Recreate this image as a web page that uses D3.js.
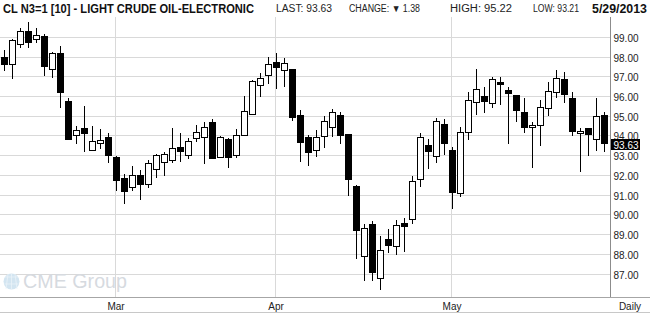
<!DOCTYPE html>
<html><head><meta charset="utf-8">
<script src="https://cdn.jsdelivr.net/npm/d3@7"></script>
<style>html,body{margin:0;padding:0;background:#fff;}svg{display:block;}</style>
</head><body>
<svg id="c" width="650" height="314"></svg>
<script>
const dates = ["2013-02-08","2013-02-11","2013-02-12","2013-02-13","2013-02-14","2013-02-15","2013-02-19","2013-02-20","2013-02-21","2013-02-22","2013-02-25","2013-02-26","2013-02-27","2013-02-28",
"2013-03-01","2013-03-04","2013-03-05","2013-03-06","2013-03-07","2013-03-08","2013-03-11","2013-03-12","2013-03-13","2013-03-14","2013-03-15","2013-03-18","2013-03-19","2013-03-20","2013-03-21","2013-03-22","2013-03-25","2013-03-26","2013-03-27","2013-03-28",
"2013-04-01","2013-04-02","2013-04-03","2013-04-04","2013-04-05","2013-04-08","2013-04-09","2013-04-10","2013-04-11","2013-04-12","2013-04-15","2013-04-16","2013-04-17","2013-04-18","2013-04-19","2013-04-22","2013-04-23","2013-04-24","2013-04-25","2013-04-26","2013-04-29","2013-04-30",
"2013-05-01","2013-05-02","2013-05-03","2013-05-06","2013-05-07","2013-05-08","2013-05-09","2013-05-10","2013-05-13","2013-05-14","2013-05-15","2013-05-16","2013-05-17","2013-05-20","2013-05-21","2013-05-22","2013-05-23","2013-05-24","2013-05-28","2013-05-29"];
const open  = [97.99,97.63,98.65,99.32,98.90,99.07,97.38,98.21,95.77,94.03,94.41,93.27,93.63,93.95,92.94,91.85,91.42,92.01,91.55,92.33,92.67,92.77,93.43,93.02,93.88,93.93,94.69,92.92,93.83,93.02,94.03,95.10,96.57,97.07,97.73,97.33,97.38,95.05,93.93,93.27,93.98,94.44,95.05,94.08,91.47,87.90,89.52,86.79,88.76,88.41,89.59,89.78,91.80,93.53,92.97,94.59,93.27,91.09,94.19,95.72,96.01,95.66,96.75,96.33,96.07,95.21,94.45,94.54,95.42,96.21,96.87,95.91,94.15,94.39,93.83,95.05];
const high  = [98.36,98.92,99.47,99.76,99.47,99.15,98.24,98.56,95.91,94.51,95.52,94.51,94.35,94.15,92.96,92.07,92.48,92.26,92.78,93.07,93.19,94.41,94.15,93.90,94.56,94.69,94.84,94.02,93.88,94.35,96.01,96.82,97.18,97.99,98.19,97.94,97.40,95.32,94.03,94.29,95.00,95.35,95.20,94.10,91.49,89.52,89.68,88.92,89.27,89.73,89.83,91.97,94.14,93.85,94.91,94.86,93.43,94.46,96.21,97.38,96.47,96.97,96.97,96.47,96.09,95.94,94.71,95.81,96.73,97.34,97.22,96.21,94.39,94.41,95.91,95.22];
const low   = [97.31,96.87,98.48,98.48,98.70,97.06,96.96,95.44,93.84,93.61,93.19,93.27,93.36,92.65,91.23,90.57,91.23,90.77,91.38,91.89,91.99,92.65,92.70,92.82,93.71,92.60,92.85,92.92,92.36,92.90,94.03,95.10,95.99,96.65,96.40,96.50,94.78,92.70,92.50,92.95,93.41,93.97,93.61,90.94,87.78,86.67,86.62,86.18,88.05,87.95,88.09,89.52,91.40,92.34,92.65,93.05,90.32,90.89,93.78,95.08,95.15,95.44,95.59,93.61,94.69,94.13,92.39,93.51,95.03,95.94,95.69,94.02,92.19,93.00,93.22,93.21];
const close = [97.63,98.86,99.32,98.78,99.10,97.56,98.21,96.25,93.86,94.30,94.17,93.73,93.80,93.05,91.79,91.23,92.01,91.55,92.61,93.04,93.07,93.37,93.22,93.73,94.22,94.47,92.90,93.93,92.92,94.07,95.25,96.77,96.96,97.63,97.51,97.68,94.95,93.71,93.17,93.93,94.74,95.20,94.07,91.84,89.25,89.32,87.12,88.21,88.46,89.47,89.42,91.70,93.93,93.22,94.74,93.63,91.18,94.19,95.81,96.36,95.79,96.87,96.62,96.20,95.33,94.43,94.54,95.45,96.28,96.92,96.11,94.24,94.25,94.08,95.01,93.63];
const yTicks = [87,88,89,90,91,92,93,94,95,96,97,98,99];
const monthTicks = ["2013-03-01","2013-04-01","2013-05-01"];
const monthLabels = ["Mar","Apr","May"];
const title = "CL N3=1 [10] - LIGHT CRUDE OIL-ELECTRONIC";
const headerItems = ["LAST: 93.63","CHANGE: \u25BC 1.38","HIGH: 95.22","LOW: 93.21"];
const headerDate = "5/29/2013";
const lastPrice = 93.63;

const svg = d3.select("#c");
const plotTop = 17, plotBottom = 297.5, axisX = 610.5;
const x = d3.scalePoint().domain(dates).range([4, 604]);
const y = d3.scaleLinear().domain([87, 99]).range([274, 37.3]);
const F = "'Liberation Sans', Arial, sans-serif";

// gridlines
svg.append("g").selectAll("line").data(yTicks).join("line")
  .attr("x1", 0).attr("x2", axisX)
  .attr("y1", d => Math.floor(y(d)) + 0.5).attr("y2", d => Math.floor(y(d)) + 0.5)
  .attr("stroke", "#d9d9d9").attr("stroke-width", 1);
svg.append("g").selectAll("line").data(monthTicks).join("line")
  .attr("x1", d => Math.round(x(d)) - 0.5).attr("x2", d => Math.round(x(d)) - 0.5)
  .attr("y1", plotTop).attr("y2", plotBottom)
  .attr("stroke", "#d9d9d9").attr("stroke-width", 1);

// watermark
const wm = svg.append("g");
wm.append("circle").attr("cx", 11.5).attr("cy", 281.5).attr("r", 8).attr("fill", "#d3e5f1");
[[5,277,18,277],[4.5,284,18.5,284],[8,274,6,289],[15,274,17,289],[11.5,273.5,11.5,289.5]].forEach(l=>{
  wm.append("line").attr("x1",l[0]).attr("y1",l[1]).attr("x2",l[2]).attr("y2",l[3]).attr("stroke","#eaf3f9").attr("stroke-width",0.8);
});
wm.append("text").attr("x", 23).attr("y", 288).attr("font-family", F).attr("font-size", 19.5)
  .attr("fill", "#d6dadf").attr("textLength", 104).attr("lengthAdjust", "spacingAndGlyphs").text("CME Group");

// axes lines
svg.append("line").attr("x1", axisX).attr("x2", axisX).attr("y1", plotTop).attr("y2", plotBottom).attr("stroke", "#8c8c8c");
svg.append("line").attr("x1", 0).attr("x2", 650).attr("y1", plotBottom).attr("y2", plotBottom).attr("stroke", "#a6a6a6");
svg.append("line").attr("x1", 0).attr("x2", 650).attr("y1", 312.5).attr("y2", 312.5).attr("stroke", "#c8c8c8");

// candles
const data = dates.map((d, i) => ({d, o: open[i], h: high[i], l: low[i], c: close[i]}));
const cg = svg.append("g");
data.forEach(k => {
  const cx = Math.round(x(k.d));
  cg.append("line").attr("x1", cx + 0.5).attr("x2", cx + 0.5)
    .attr("y1", Math.round(y(k.h))).attr("y2", Math.round(y(k.l)))
    .attr("stroke", "#000").attr("stroke-width", 1);
  const t = Math.round(y(Math.max(k.o, k.c))), b = Math.round(y(Math.min(k.o, k.c)));
  cg.append("rect").attr("x", cx - 2.5).attr("y", t + 0.5).attr("width", 6).attr("height", Math.max(1, b - t))
    .attr("fill", k.c >= k.o ? "#fff" : "#000").attr("stroke", "#000").attr("stroke-width", 1);
});

// y labels
svg.append("g").selectAll("text").data(yTicks).join("text")
  .attr("x", axisX + 3).attr("y", d => y(d) + 4.5)
  .attr("font-family", F).attr("font-size", 10).attr("fill", "#222")
  .text(d => d.toFixed(2));

// last price box
const ly = y(lastPrice);
svg.append("rect").attr("x", axisX + 0.5).attr("y", Math.round(ly) - 4).attr("width", 29).attr("height", 11).attr("fill", "#000");
svg.append("text").attr("x", axisX + 3).attr("y", Math.round(ly) + 5.5)
  .attr("font-family", F).attr("font-size", 10).attr("fill", "#fff").text(lastPrice.toFixed(2));

// x labels
svg.append("g").selectAll("text").data(monthTicks).join("text")
  .attr("x", d => x(d)).attr("y", 309.5).attr("text-anchor", "middle")
  .attr("font-family", F).attr("font-size", 10).attr("fill", "#222")
  .text((d, i) => monthLabels[i]);
svg.append("text").attr("x", 630).attr("y", 309.5).attr("text-anchor", "middle")
  .attr("font-family", F).attr("font-size", 10).attr("fill", "#222").text("Daily");

// header
svg.append("text").attr("x", 3).attr("y", 12.5).attr("font-family", F).attr("font-weight", "bold")
  .attr("font-size", 13.5).attr("fill", "#111").attr("textLength", 251).attr("lengthAdjust", "spacingAndGlyphs").text(title);
const hx = [276, 349, 450, 533], hw = [56, 71, 62, 46];
headerItems.forEach((t, i) => {
  svg.append("text").attr("x", hx[i]).attr("y", 12).attr("font-family", F).attr("font-size", 10)
    .attr("fill", "#222").attr("textLength", hw[i]).attr("lengthAdjust", "spacingAndGlyphs").text(t);
});
svg.append("text").attr("x", 592).attr("y", 12.5).attr("font-family", F).attr("font-weight", "bold")
  .attr("font-size", 13.5).attr("fill", "#111").attr("textLength", 55).attr("lengthAdjust", "spacingAndGlyphs").text(headerDate);
</script>
</body></html>
